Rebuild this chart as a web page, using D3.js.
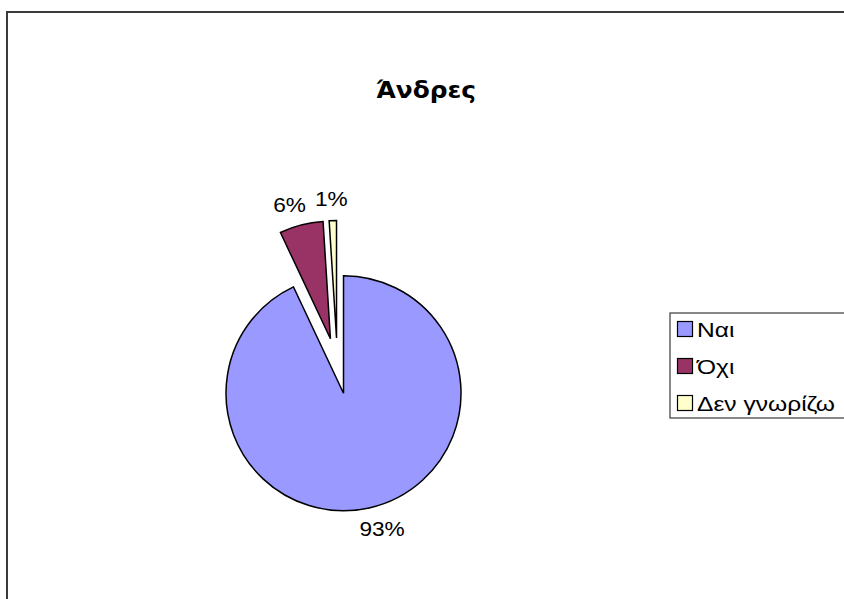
<!DOCTYPE html>
<html>
<head>
<meta charset="utf-8">
<script src="https://cdn.jsdelivr.net/npm/d3@7"></script>
<style>
  html, body { margin: 0; padding: 0; background: #fff; }
  svg { display: block; font-family: "Liberation Sans", Arial, sans-serif; }
</style>
</head>
<body>
<svg id="chart" width="844" height="599"></svg>
<script>
// Survey answers (percent of respondents)
const title = "Άνδρες";
const categories = ["Ναι", "Όχι", "Δεν γνωρίζω"];
const values = [93, 6, 1];
const colors = ["#9999FF", "#993366", "#FFFFCC"];

const svg = d3.select("#chart");
const W = 844, H = 599;

// Chart frame
svg.append("rect")
  .attr("x", 7).attr("y", 12)
  .attr("width", W + 20).attr("height", H + 20)
  .attr("fill", "#fff")
  .attr("stroke", "#3a3a3a")
  .attr("stroke-width", 2);

// Wide-set text: horizontal stretch applied around the anchor point
function stretchedText(g, x, y, txt, size, sx, anchor, weight, family) {
  const t = g.append("text")
    .attr("transform", `translate(${x},${y}) scale(${sx},1)`)
    .attr("text-anchor", anchor)
    .attr("font-size", size)
    .attr("font-weight", weight || "normal")
    .attr("fill", "#000")
    .text(txt);
  if (family) t.attr("font-family", family);
  return t;
}

// Title
stretchedText(svg, 426, 98, title, 23, 1.08, "middle", "bold", "DejaVu Sans");

// Pie geometry
const cx = 337.4, cy = 365.9, r = 117.5, explode = 28;
const pie = d3.pie().sort(null).value(d => d).startAngle(0).endAngle(2 * Math.PI);
const arcs = pie(values);
const arc = d3.arc().innerRadius(0).outerRadius(r);

const slices = svg.append("g");
arcs.forEach((a, i) => {
  const mid = (a.startAngle + a.endAngle) / 2;
  const ox = cx + explode * Math.sin(mid);
  const oy = cy - explode * Math.cos(mid);
  slices.append("path")
    .attr("transform", `translate(${ox},${oy})`)
    .attr("d", arc(a))
    .attr("fill", colors[i])
    .attr("stroke", "#000")
    .attr("stroke-width", 1.5)
    .attr("stroke-linejoin", "miter");
});

// Data labels outside each slice end
const labelSize = 21, labelSx = 1.08, capH = 15, gap = 14;
const labels = svg.append("g");
arcs.forEach((a, i) => {
  const mid = (a.startAngle + a.endAngle) / 2;
  const s = Math.sin(mid), c = -Math.cos(mid);
  const ox = cx + explode * s, oy = cy + explode * c;
  const px = ox + r * s, py = oy + r * c;
  const txt = values[i] + "%";
  const t = stretchedText(labels, 0, 0, txt, labelSize, labelSx, "middle");
  const w = t.node().getComputedTextLength() * labelSx;
  const lx = px + gap * s + s * w;
  const ly = py + gap * c + c * capH / 2;
  t.attr("transform", `translate(${lx},${ly + capH / 2}) scale(${labelSx},1)`);
});

// Legend
const legX = 670, legY = 313, legH = 105, rowH = 37;
const legend = svg.append("g");
legend.append("rect")
  .attr("x", legX).attr("y", legY)
  .attr("width", 200).attr("height", legH)
  .attr("fill", "#fff")
  .attr("stroke", "#3a3a3a")
  .attr("stroke-width", 1.2);
categories.forEach((name, i) => {
  const yc = legY + 16 + i * rowH;
  legend.append("rect")
    .attr("x", 677.5).attr("y", yc - 7.5)
    .attr("width", 15).attr("height", 15)
    .attr("fill", colors[i])
    .attr("stroke", "#000")
    .attr("stroke-width", 1.2);
  stretchedText(legend, 697, yc + 7.5, name, 21, 1.17, "start");
});
</script>
</body>
</html>
